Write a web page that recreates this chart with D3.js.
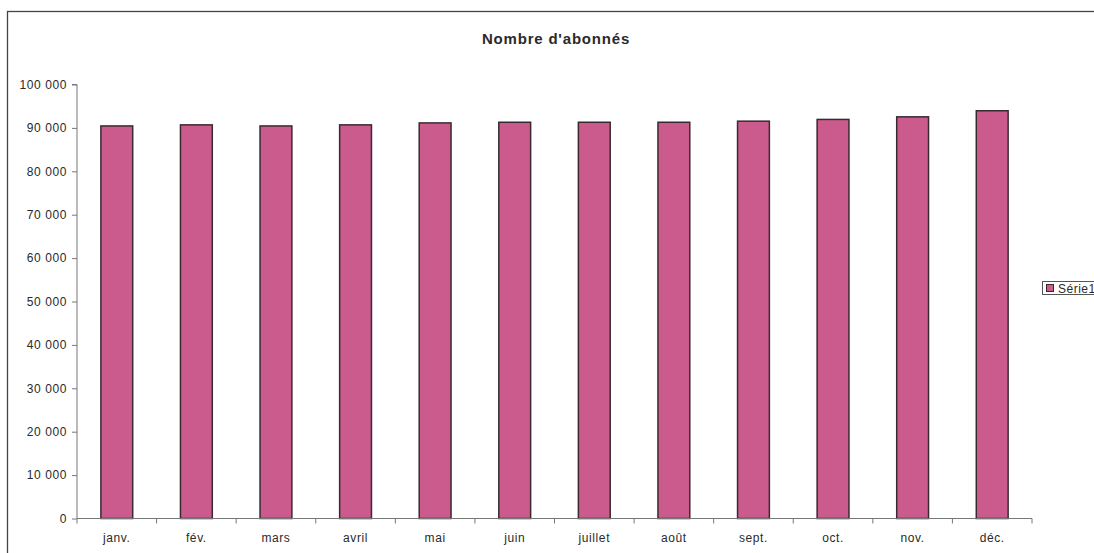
<!DOCTYPE html>
<html>
<head>
<meta charset="utf-8">
<script src="https://cdn.jsdelivr.net/npm/d3@7"></script>
<style>
  html, body { margin: 0; padding: 0; background: #fff; }
  svg { display: block; font-family: Arial, "Liberation Sans", sans-serif; }
</style>
</head>
<body>
<svg id="chart" width="1094" height="553"></svg>
<script>
// Monthly subscriber counts
const months = ["janv.", "fév.", "mars", "avril", "mai", "juin", "juillet", "août", "sept.", "oct.", "nov.", "déc."];
const subscribers = [90450, 90700, 90450, 90700, 91150, 91300, 91300, 91300, 91550, 91950, 92550, 93950];
const yTicks = [0, 10000, 20000, 30000, 40000, 50000, 60000, 70000, 80000, 90000, 100000];
const seriesName = "Série1";
const chartTitle = "Nombre d'abonnés";

const svg = d3.select("#chart");
const W = 1094, H = 553;
const textColor = "#2a2a2a";

// Outer frame of the chart area
svg.append("rect")
  .attr("x", 7.5).attr("y", 11.5)
  .attr("width", W + 20).attr("height", H + 20)
  .attr("fill", "none").attr("stroke", "#444").attr("stroke-width", 1.3);

const plot = { left: 77, right: 1032, top: 84.5, bottom: 518.5 };

const x = d3.scaleBand()
  .domain(months)
  .range([plot.left, plot.right])
  .paddingInner(0.6)
  .paddingOuter(0.3);

const y = d3.scaleLinear()
  .domain([0, 100000])
  .range([plot.bottom, plot.top]);

const fmt = v => d3.format(",")(v).replace(/,/g, " ");

// Y axis
const yAxis = d3.axisLeft(y)
  .tickValues(yTicks)
  .tickFormat(fmt)
  .tickSize(5)
  .tickPadding(5);

const yg = svg.append("g")
  .attr("transform", `translate(${plot.left},0)`)
  .call(yAxis);
yg.select(".domain").attr("stroke", "#777").attr("d", `M-5,${plot.top}H0V${plot.bottom}`);
yg.selectAll(".tick line").attr("stroke", "#777");
yg.selectAll(".tick text").attr("font-size", 12).attr("fill", textColor)
  .attr("letter-spacing", 0.6)
  .attr("font-family", "Arial, 'Liberation Sans', sans-serif");

// Bars
svg.append("g").selectAll("rect")
  .data(months.map((m, i) => ({ m, v: subscribers[i] })))
  .join("rect")
  .attr("x", d => x(d.m))
  .attr("y", d => y(d.v))
  .attr("width", x.bandwidth())
  .attr("height", d => y(0) - y(d.v))
  .attr("fill", "#cb5b8d")
  .attr("stroke", "#3a2a30")
  .attr("stroke-width", 1.5);

// X axis with ticks at category boundaries
const xg = svg.append("g").attr("transform", `translate(0,${plot.bottom})`);
xg.append("line")
  .attr("x1", plot.left).attr("x2", plot.right)
  .attr("stroke", "#777");
const bounds = d3.range(months.length + 1).map(i => plot.left + i * (plot.right - plot.left) / months.length);
xg.selectAll("line.tk")
  .data(bounds)
  .join("line")
  .attr("class", "tk")
  .attr("x1", d => d).attr("x2", d => d)
  .attr("y1", 0).attr("y2", 5)
  .attr("stroke", "#777");
xg.selectAll("text")
  .data(months)
  .join("text")
  .attr("x", d => x(d) + x.bandwidth() / 2)
  .attr("y", 23)
  .attr("text-anchor", "middle")
  .attr("font-size", 12)
  .attr("letter-spacing", 0.6)
  .attr("fill", textColor)
  .text(d => d);

// Title
svg.append("text")
  .attr("x", 556).attr("y", 44)
  .attr("text-anchor", "middle")
  .attr("font-size", 15)
  .attr("font-weight", "bold")
  .attr("letter-spacing", 0.8)
  .attr("fill", textColor)
  .text(chartTitle);

// Legend
const lg = svg.append("g");
lg.append("rect")
  .attr("x", 1042.5).attr("y", 281.5)
  .attr("width", 70).attr("height", 13)
  .attr("fill", "#fff").attr("stroke", "#555");
lg.append("rect")
  .attr("x", 1046.5).attr("y", 284.5)
  .attr("width", 7).attr("height", 7)
  .attr("fill", "#cb5b8d").attr("stroke", "#3a2a30");
lg.append("text")
  .attr("x", 1058).attr("y", 292.5)
  .attr("font-size", 12)
  .attr("letter-spacing", 0.5)
  .attr("fill", textColor)
  .text(seriesName);
</script>
</body>
</html>
